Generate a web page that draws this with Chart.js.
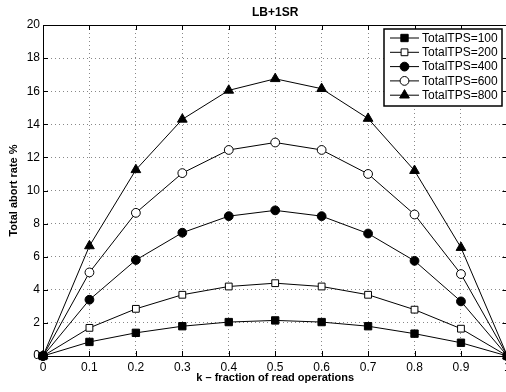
<!DOCTYPE html>
<html>
<head>
<meta charset="utf-8">
<script src="https://cdn.jsdelivr.net/npm/chart.js@4/dist/chart.umd.min.js"></script>
<style>
  html, body { margin: 0; padding: 0; overflow: hidden; background: #fff; }
  #wrap { width: 514px; height: 392px; }
</style>
</head>
<body>
<div id="wrap"><canvas id="c" width="514" height="392"></canvas></div>
<script>
// k values along the x axis
const kLabels = ['0', '0.1', '0.2', '0.3', '0.4', '0.5', '0.6', '0.7', '0.8', '0.9', '1'];

// total abort rate (%) for each offered load
const tps100 = [0, 0.85, 1.4, 1.8, 2.05, 2.15, 2.05, 1.8, 1.35, 0.8, 0];
const tps200 = [0, 1.7, 2.85, 3.7, 4.2, 4.4, 4.2, 3.7, 2.8, 1.65, 0];
const tps400 = [0, 3.4, 5.8, 7.45, 8.45, 8.8, 8.45, 7.4, 5.75, 3.3, 0];
const tps600 = [0, 5.05, 8.65, 11.05, 12.45, 12.9, 12.45, 11.0, 8.55, 4.95, 0];
const tps800 = [0, 6.65, 11.25, 14.3, 16.05, 16.75, 16.15, 14.35, 11.2, 6.55, 0];

const seriesNames = ['TotalTPS=100', 'TotalTPS=200', 'TotalTPS=400', 'TotalTPS=600', 'TotalTPS=800'];
const seriesValues = [tps100, tps200, tps400, tps600, tps800];
const markerStyles = [
  { style: 'rect', fill: '#000', radius: 5.2 },
  { style: 'rect', fill: '#fff', radius: 4.8 },
  { style: 'circle', fill: '#000', radius: 4.4 },
  { style: 'circle', fill: '#fff', radius: 4.4 },
  { style: 'triangle', fill: '#000', radius: 5.6 }
];

const FONT = "'Liberation Sans', Arial, Helvetica, sans-serif";

function drawMarker(ctx, style, x, y, r, fill) {
  ctx.save();
  ctx.beginPath();
  if (style === 'rect') {
    const s = Math.SQRT1_2 * r;
    ctx.rect(x - s, y - s, 2 * s, 2 * s);
  } else if (style === 'circle') {
    ctx.arc(x, y, r, 0, Math.PI * 2);
  } else {
    ctx.moveTo(x, y - r);
    ctx.lineTo(x + r * 0.866, y + r * 0.5);
    ctx.lineTo(x - r * 0.866, y + r * 0.5);
    ctx.closePath();
  }
  ctx.fillStyle = fill;
  ctx.fill();
  ctx.lineWidth = 1;
  ctx.strokeStyle = '#000';
  ctx.stroke();
  ctx.restore();
}

// axes box with inward tick marks on all four sides
const framePlugin = {
  id: 'frame',
  beforeDatasetsDraw(chart) {
    const { ctx, chartArea: a, scales } = chart;
    ctx.save();
    ctx.strokeStyle = '#000';
    ctx.lineWidth = 1;
    ctx.strokeRect(a.left + 0.5, a.top + 0.5, a.right - a.left, a.bottom - a.top);
    const tl = 5;
    ctx.beginPath();
    scales.x.ticks.forEach((t, i) => {
      const px = Math.round(scales.x.getPixelForTick(i)) + 0.5;
      ctx.moveTo(px, a.bottom); ctx.lineTo(px, a.bottom - tl);
      ctx.moveTo(px, a.top); ctx.lineTo(px, a.top + tl);
    });
    scales.y.ticks.forEach((t) => {
      const py = Math.round(scales.y.getPixelForValue(t.value)) + 0.5;
      ctx.moveTo(a.left, py); ctx.lineTo(a.left + tl, py);
      ctx.moveTo(a.right, py); ctx.lineTo(a.right - tl, py);
    });
    ctx.stroke();
    ctx.restore();
  }
};

// boxed legend in the upper right corner of the plot
const boxLegendPlugin = {
  id: 'boxLegend',
  afterDatasetsDraw(chart) {
    const { ctx } = chart;
    const x0 = 384, y0 = 29, w = 118, h = 77;
    ctx.save();
    ctx.fillStyle = '#fff';
    ctx.fillRect(x0, y0, w, h);
    ctx.lineWidth = 1.5;
    ctx.strokeStyle = '#000';
    ctx.strokeRect(x0, y0, w, h);
    ctx.font = '12px ' + FONT;
    ctx.textBaseline = 'middle';
    ctx.textAlign = 'left';
    chart.data.datasets.forEach((ds, i) => {
      const y = y0 + 9 + i * 14.3;
      ctx.beginPath();
      ctx.lineWidth = 1;
      ctx.strokeStyle = '#000';
      ctx.moveTo(x0 + 6, y); ctx.lineTo(x0 + 35, y);
      ctx.stroke();
      const m = markerStyles[i];
      drawMarker(ctx, m.style, x0 + 20.5, y, m.radius, m.fill);
      ctx.fillStyle = '#000';
      ctx.fillText(ds.label, x0 + 38, y + 0.5);
    });
    ctx.restore();
  }
};

const datasets = seriesValues.map((vals, i) => ({
  label: seriesNames[i],
  data: vals,
  borderColor: '#000',
  borderWidth: 1,
  pointStyle: markerStyles[i].style,
  pointRadius: markerStyles[i].radius,
  pointBackgroundColor: markerStyles[i].fill,
  pointBorderColor: '#000',
  pointBorderWidth: 1,
  tension: 0,
  clip: false
}));

new Chart(document.getElementById('c'), {
  type: 'line',
  data: { labels: kLabels, datasets },
  options: {
    responsive: false,
    animation: false,
    events: [],
    layout: { padding: { left: 0, right: 0, top: 0, bottom: 0 } },
    plugins: {
      legend: { display: false },
      tooltip: { enabled: false },
      title: {
        display: true,
        text: 'LB+1SR',
        fullSize: false,
        color: '#000',
        font: { family: FONT, size: 12, weight: 'bold' },
        padding: { top: 5, bottom: 5.6 }
      }
    },
    scales: {
      x: {
        type: 'category',
        offset: false,
        grid: { color: '#888', lineWidth: 1, drawTicks: false },
        border: { display: false, dash: [1, 3] },
        ticks: { color: '#000', font: { family: FONT, size: 12 }, padding: 4, maxRotation: 0, autoSkip: false },
        title: {
          display: true,
          text: 'k – fraction of read operations',
          color: '#000',
          font: { family: FONT, size: 11, weight: 'bold' },
          padding: { top: 0, bottom: 7 }
        },
        afterFit(s) { s.height = 36; s.paddingLeft = 0; s.paddingRight = 0; }
      },
      y: {
        min: 0,
        max: 20,
        ticks: { stepSize: 2, color: '#000', font: { family: FONT, size: 12 }, padding: 3 },
        grid: { color: '#888', lineWidth: 1, drawTicks: false },
        border: { display: false, dash: [1, 3] },
        title: {
          display: true,
          text: 'Total abort rate %',
          color: '#000',
          font: { family: FONT, size: 11, weight: 'bold' },
          padding: { top: 7.5, bottom: 0 }
        },
        afterFit(s) { s.width = 43; s.paddingTop = 0; s.paddingBottom = 0; }
      }
    }
  },
  plugins: [framePlugin, boxLegendPlugin]
});
</script>
</body>
</html>
